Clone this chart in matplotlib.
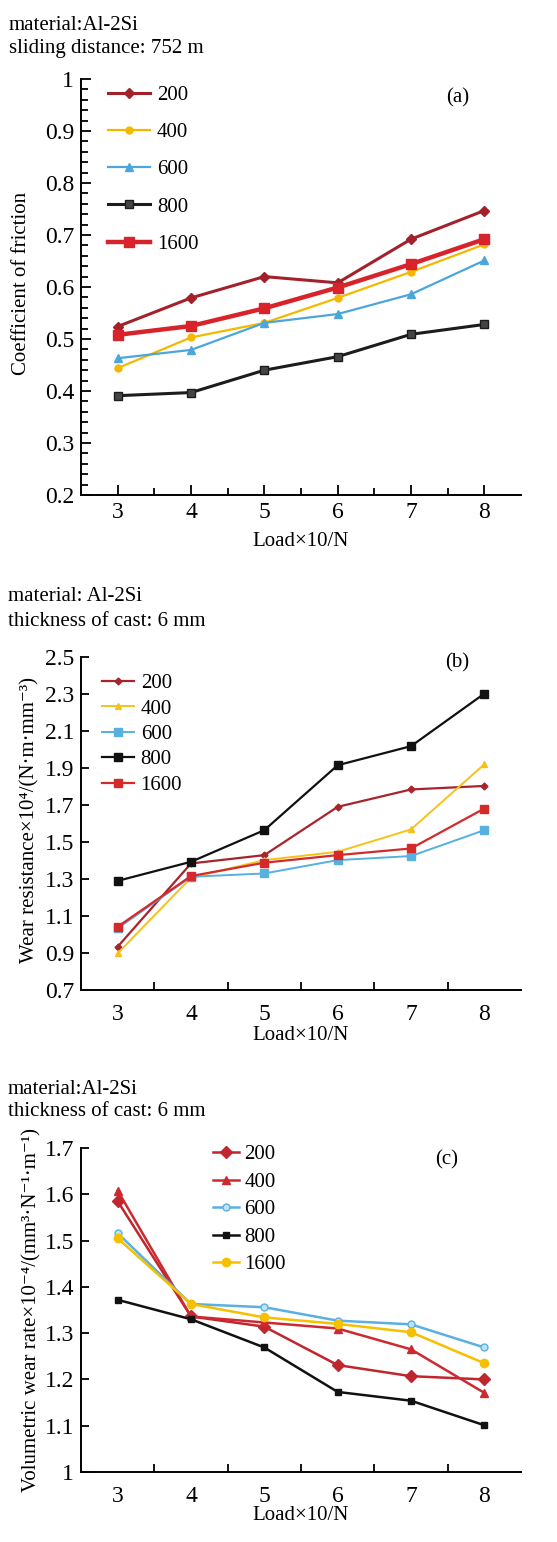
import matplotlib
matplotlib.use("Agg")
import matplotlib.pyplot as plt
from matplotlib.ticker import MultipleLocator, FixedLocator, FuncFormatter

plt.rcParams['font.family'] = ['Liberation Serif', 'DejaVu Serif']

# ---------------- data ----------------
loads = [3, 4, 5, 6, 7, 8]
series_labels = ['200', '400', '600', '800', '1600']

# (a) coefficient of friction
cof_200 = [0.524, 0.579, 0.620, 0.608, 0.692, 0.747]
cof_400 = [0.444, 0.503, 0.531, 0.579, 0.629, 0.682]
cof_600 = [0.463, 0.479, 0.531, 0.548, 0.586, 0.651]
cof_800 = [0.391, 0.397, 0.440, 0.466, 0.509, 0.528]
cof_1600 = [0.508, 0.525, 0.559, 0.599, 0.644, 0.692]

# (b) wear resistance x10^4
wr_200 = [0.934, 1.384, 1.429, 1.690, 1.784, 1.803]
wr_400 = [0.898, 1.307, 1.402, 1.447, 1.568, 1.920]
wr_600 = [1.033, 1.312, 1.330, 1.402, 1.424, 1.564]
wr_800 = [1.290, 1.393, 1.564, 1.915, 2.018, 2.302]
wr_1600 = [1.042, 1.316, 1.388, 1.429, 1.465, 1.681]

# (c) volumetric wear rate x10^-4
vw_200 = [1.585, 1.336, 1.314, 1.231, 1.207, 1.200]
vw_400 = [1.608, 1.336, 1.323, 1.310, 1.265, 1.171]
vw_600 = [1.516, 1.363, 1.356, 1.327, 1.319, 1.269]
vw_800 = [1.372, 1.330, 1.269, 1.173, 1.154, 1.101]
vw_1600 = [1.505, 1.363, 1.334, 1.320, 1.302, 1.235]

W, H = 557, 1542
fig = plt.figure(figsize=(W / 100, H / 100), dpi=100)


def axes_px(left, top, right, bottom):
    return fig.add_axes([left / W, 1 - bottom / H, (right - left) / W, (bottom - top) / H])


def style_axes(ax):
    for s in ['top', 'right']:
        ax.spines[s].set_visible(False)
    for s in ['left', 'bottom']:
        ax.spines[s].set_linewidth(1.4)
    ax.tick_params(direction='in', labelsize=17, width=1.3, pad=5)
    ax.tick_params(which='minor', direction='in', width=1.3)
    ax.set_xlim(2.5, 8.5)


TS = 15

# ---------------- (a) ----------------
axA = axes_px(81, 79, 521, 495)
style_axes(axA)
axA.plot(loads, cof_200, color='#a3212b', lw=2.2, marker='D', ms=5, label='200')
axA.plot(loads, cof_400, color='#f5b800', lw=1.6, marker='o', ms=5, label='400')
axA.plot(loads, cof_600, color='#4ba6dc', lw=1.6, marker='^', ms=6, label='600')
axA.plot(loads, cof_800, color='#1c1c1c', lw=2.2, marker='s', ms=6, mfc='#444444', label='800')
axA.plot(loads, cof_1600, color='#d8232a', lw=3.2, marker='s', ms=7, label='1600')
axA.set_ylim(0.2, 1.0)
axA.yaxis.set_major_locator(MultipleLocator(0.1))
axA.yaxis.set_minor_locator(MultipleLocator(0.02))
axA.yaxis.set_major_formatter(FuncFormatter(lambda v, p: f'{v:g}'))
axA.xaxis.set_major_locator(FixedLocator(loads))
axA.xaxis.set_minor_locator(FixedLocator([3.5, 4.5, 5.5, 6.5, 7.5]))
axA.tick_params(which='major', length=7)
axA.tick_params(which='minor', length=5)
axA.legend(loc='upper left', bbox_to_anchor=(0.061, 0.985), frameon=False, fontsize=TS,
           handlelength=2.0, handletextpad=0.35, labelspacing=0.85, borderpad=0, borderaxespad=0)
axA.text(0.855, 0.954, '(a)', transform=axA.transAxes, fontsize=TS, ha='center', va='center')
fig.text(9 / W, 1 - 25 / H, 'material:Al-2Si', fontsize=TS, va='center')
fig.text(9 / W, 1 - 48 / H, 'sliding distance: 752 m', fontsize=TS, va='center')
fig.text(301 / W, 1 - 542 / H, 'Load×10/N', fontsize=TS, ha='center', va='center')
fig.text(22 / W, 1 - 283 / H, 'Coefficient of friction', fontsize=TS, ha='center', va='center', rotation=90)

# ---------------- (b) ----------------
axB = axes_px(81, 657, 521, 990)
style_axes(axB)
axB.plot(loads, wr_200, color='#a8242c', lw=1.6, marker='D', ms=3.5, label='200')
axB.plot(loads, wr_400, color='#f6c21a', lw=1.4, marker='^', ms=4, label='400')
axB.plot(loads, wr_600, color='#56b0e0', lw=1.4, marker='s', ms=5.5, label='600')
axB.plot(loads, wr_800, color='#111111', lw=1.6, marker='s', ms=5.5, label='800')
axB.plot(loads, wr_1600, color='#d42a2a', lw=1.6, marker='s', ms=5.5, label='1600')
axB.set_ylim(0.7, 2.5)
axB.yaxis.set_major_locator(FixedLocator([0.7, 0.9, 1.1, 1.3, 1.5, 1.7, 1.9, 2.1, 2.3, 2.5]))
axB.yaxis.set_major_formatter(FuncFormatter(lambda v, p: f'{v:.1f}'))
axB.xaxis.set_major_locator(FixedLocator(loads))
axB.xaxis.set_minor_locator(FixedLocator([3.5, 4.5, 5.5, 6.5, 7.5]))
axB.tick_params(axis='y', which='major', length=6)
axB.tick_params(axis='x', which='major', length=0, pad=10)
axB.tick_params(axis='x', which='minor', length=6)
axB.legend(loc='upper left', bbox_to_anchor=(0.048, 0.95), frameon=False, fontsize=TS,
           handlelength=1.55, handletextpad=0.3, labelspacing=0.28, borderpad=0, borderaxespad=0)
axB.text(0.855, 0.982, '(b)', transform=axB.transAxes, fontsize=TS, ha='center', va='center')
fig.text(8 / W, 1 - 597 / H, 'material: Al-2Si', fontsize=TS, va='center')
fig.text(8 / W, 1 - 622 / H, 'thickness of cast: 6 mm', fontsize=TS, va='center')
fig.text(301 / W, 1 - 1035 / H, 'Load×10/N', fontsize=TS, ha='center', va='center')
fig.text(30 / W, 1 - 820 / H, 'Wear resistance×10⁴/(N·m·mm⁻³)', fontsize=TS,
         ha='center', va='center', rotation=90)

# ---------------- (c) ----------------
axC = axes_px(81, 1148, 521, 1472)
style_axes(axC)
axC.plot(loads, vw_200, color='#c0262d', lw=1.8, marker='D', ms=6, label='200')
axC.plot(loads, vw_400, color='#cc2a30', lw=1.8, marker='^', ms=6, label='400')
axC.plot(loads, vw_600, color='#5ab0e0', lw=1.8, marker='o', ms=5, mfc='#bfe3f5', label='600')
axC.plot(loads, vw_800, color='#111111', lw=1.8, marker='s', ms=5, label='800')
axC.plot(loads, vw_1600, color='#f5c000', lw=1.8, marker='o', ms=6, label='1600')
axC.set_ylim(1.0, 1.7)
axC.yaxis.set_major_locator(MultipleLocator(0.1))
axC.yaxis.set_major_formatter(FuncFormatter(lambda v, p: f'{v:g}'))
axC.xaxis.set_major_locator(FixedLocator(loads))
axC.xaxis.set_minor_locator(FixedLocator([3.5, 4.5, 5.5, 6.5, 7.5]))
axC.tick_params(axis='y', which='major', length=6)
axC.tick_params(axis='x', which='major', length=0, pad=10)
axC.tick_params(axis='x', which='minor', length=6)
axC.legend(loc='upper left', bbox_to_anchor=(0.30, 1.01), frameon=False, fontsize=TS,
           handlelength=1.25, handletextpad=0.25, labelspacing=0.38, borderpad=0, borderaxespad=0)
axC.text(0.832, 0.963, '(c)', transform=axC.transAxes, fontsize=TS, ha='center', va='center')
fig.text(8 / W, 1 - 1090 / H, 'material:Al-2Si', fontsize=TS, va='center')
fig.text(8 / W, 1 - 1112 / H, 'thickness of cast: 6 mm', fontsize=TS, va='center')
fig.text(301 / W, 1 - 1515 / H, 'Load×10/N', fontsize=TS, ha='center', va='center')
fig.text(32 / W, 1 - 1310 / H, 'Volumetric wear rate×10⁻⁴/(mm³·N⁻¹·m⁻¹)',
         fontsize=TS, ha='center', va='center', rotation=90)

fig.savefig('out.png', dpi=100)
